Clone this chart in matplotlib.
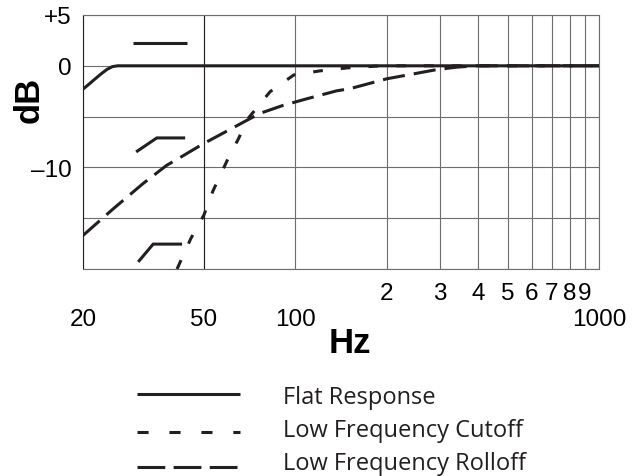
import matplotlib
matplotlib.use('Agg')
import matplotlib.pyplot as plt
from matplotlib.lines import Line2D

# frequency response data (Hz, dB)
flat_hz = [20, 21, 22, 23, 24, 25, 26, 1000]
flat_db = [-2.3, -1.77, -1.25, -0.77, -0.35, -0.08, 0, 0]

cutoff_hz = [40.8, 45.3, 50, 53.6, 59.6, 65.2, 69.4, 82.6, 98.9, 120.5, 149, 185, 222, 1000]
cutoff_db = [-20, -17.0, -14.7, -12.3, -9.35, -7.1, -5.3, -2.55, -0.9, -0.5, -0.2, -0.03, 0, 0]

rolloff_hz = [20, 25.1, 31.5, 37.7, 41.1, 49.6, 64.2, 76.2, 91.1, 109, 137, 151, 200, 294, 341, 398, 1000]
rolloff_db = [-16.7, -14.1, -11.6, -9.8, -9.15, -7.7, -5.9, -4.7, -3.9, -3.25, -2.46, -2.26, -1.28, -0.36, -0.13, 0, 0]

series_labels = ['Flat Response', 'Low Frequency Cutoff', 'Low Frequency Rolloff']

major_hz = [20, 50, 100, 1000]
major_labels = ['20', '50', '100', '1000']
minor_hz = [200, 300, 400, 500, 600, 700, 800, 900]
minor_labels = ['2', '3', '4', '5', '6', '7', '8', '9']
db_ticks = [-20, -15, -10, -5, 0, 5]
db_labels = ['', '', '\u201310', '', '0', '+5']

INK = '#231f20'
GRID = '#6d6d6d'
plt.rcParams['lines.scale_dashes'] = False

fig = plt.figure(figsize=(6.42, 4.77), dpi=100)
ax = fig.add_axes([83 / 642, 1 - 270 / 477, 516 / 642, 254 / 477])

lw = 2.2
ax.plot(rolloff_hz, rolloff_db, color=INK, lw=lw, dashes=(16, 6.5), zorder=3)
ax.plot(cutoff_hz, cutoff_db, color=INK, lw=lw, dashes=(7, 13), zorder=3)
ax.plot(flat_hz, flat_db, color=INK, lw=lw, solid_capstyle='butt', zorder=4)

ax.set_xscale('log')
ax.set_xlim(20, 1000)
ax.set_ylim(-20, 5)

ax.set_xticks(major_hz)
ax.set_xticklabels(major_labels)
ax.set_xticks(minor_hz, minor=True)
ax.set_xticklabels(minor_labels, minor=True)
ax.set_yticks(db_ticks)
ax.set_yticklabels(db_labels)

tick_font = 'Liberation Sans'
for lab in ax.get_xticklabels(which='both') + ax.get_yticklabels():
    lab.set_fontfamily(tick_font)
    lab.set_fontsize(17.5)
    lab.set_color('black')
ax.tick_params(axis='x', which='major', length=0, pad=28)
ax.tick_params(axis='x', which='minor', length=0, pad=9)
ax.tick_params(axis='y', length=0, pad=8)

ax.grid(True, which='both', color=GRID, lw=0.8)
ax.axvline(50, color=INK, lw=0.8, zorder=1)
ax.set_axisbelow(True)
for sp in ax.spines.values():
    sp.set_color(GRID)
    sp.set_linewidth(0.8)
ax.spines['left'].set_color(INK)

ax.set_xlabel('Hz', fontfamily=tick_font, fontweight='bold', fontsize=25, va='center')
ax.xaxis.set_label_coords((350 - 83) / 516, (270 - 344) / 254)
ax.set_ylabel('dB', fontfamily=tick_font, fontweight='bold', fontsize=25, va='center')
ax.yaxis.set_label_coords((29 - 83) / 516, (270 - 100) / 254)

# small switch-position glyphs inside the plot (axes fractions)
glyphs = [
    ([0.097, 0.202], [0.890, 0.890]),
    ([0.103, 0.143, 0.198], [0.461, 0.516, 0.516]),
    ([0.107, 0.136, 0.192], [0.028, 0.098, 0.098]),
]
for gx, gy in glyphs:
    ax.plot(gx, gy, transform=ax.transAxes, color=INK, lw=lw,
            solid_capstyle='butt', solid_joinstyle='miter', clip_on=False)

# legend below the plot
leg_styles = [dict(linestyle='-'), dict(dashes=(8, 15)), dict(dashes=(20, 6))]
line_y = [395, 433, 468]
text_y = [398, 431, 464]
for lbl, st, ly, ty in zip(series_labels, leg_styles, line_y, text_y):
    fig.add_artist(Line2D([137 / 642, 240 / 642], [1 - ly / 477, 1 - ly / 477],
                          transform=fig.transFigure, color=INK, lw=lw,
                          solid_capstyle='butt', **st))
    fig.text(283 / 642, 1 - ty / 477, lbl, fontfamily='Open Sans', fontsize=17,
             color=INK, ha='left', va='center')

fig.savefig('out.png', dpi=100)
